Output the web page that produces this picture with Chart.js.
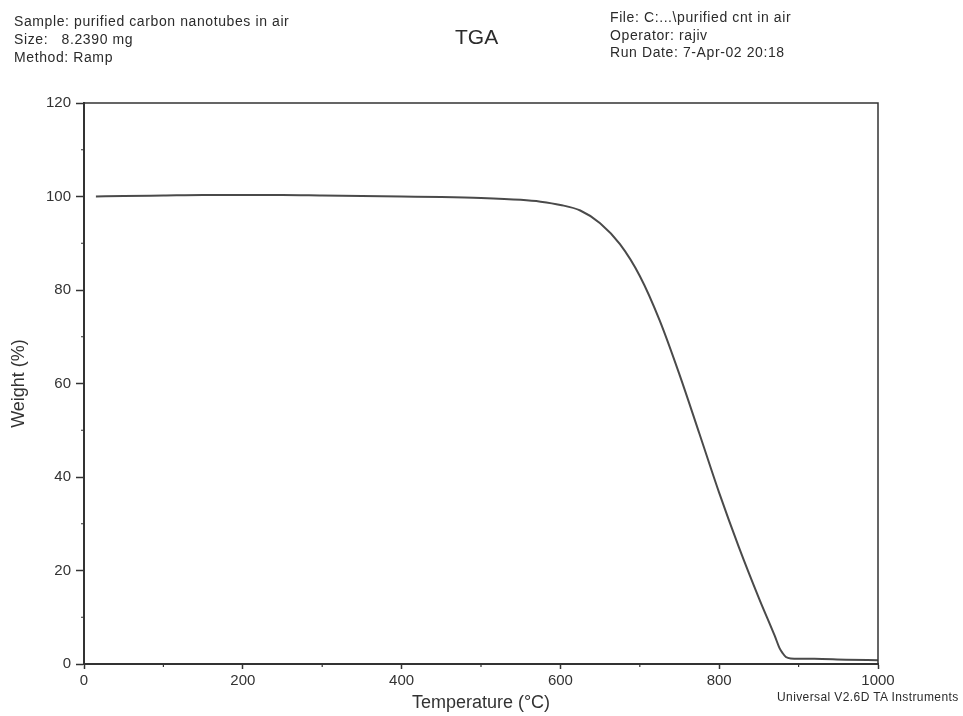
<!DOCTYPE html>
<html><head><meta charset="utf-8">
<script src="https://cdn.jsdelivr.net/npm/chart.js@4.4.0/dist/chart.umd.min.js"></script>
<style>
html,body{margin:0;padding:0;background:#fff;}
#wrap{position:relative;width:963px;height:716px;overflow:hidden;}
canvas{position:absolute;left:0;top:0;}
.t{position:absolute;font-family:"Liberation Sans",Arial,Helvetica,sans-serif;color:#2b2b2b;white-space:pre;}
</style></head><body>
<div id="wrap">
<canvas id="c" width="963" height="716"></canvas>
<div class="t" style="left:14px;top:12px;font-size:14px;letter-spacing:0.6px;line-height:18px">Sample: purified carbon nanotubes in air
Size:   8.2390 mg
Method: Ramp</div>
<div class="t" style="left:455px;top:24px;font-size:21px;line-height:26px">TGA</div>
<div class="t" style="left:610px;top:9px;font-size:14px;letter-spacing:0.6px;line-height:17.5px">File: C:...\purified cnt in air
Operator: rajiv
Run Date: 7-Apr-02 20:18</div>
<div class="t" style="left:777px;top:690px;font-size:12px;letter-spacing:0.4px;line-height:15px">Universal V2.6D TA Instruments</div>
</div>
<script>
const temperatureC = [15, 50, 100, 150, 200, 250, 300, 350, 400, 450, 500, 550, 575, 600, 625, 650, 675, 700, 725, 750, 775, 800, 825, 850, 870, 876, 880, 884, 890, 920, 960, 1000];
const weightPct = [100.0, 100.1, 100.2, 100.3, 100.3, 100.3, 100.2, 100.1, 100.0, 99.9, 99.7, 99.3, 98.9, 98.2, 97.0, 94.3, 89.8, 83.0, 73.5, 61.9, 49.3, 36.6, 24.9, 14.1, 6.0, 3.4, 2.3, 1.5, 1.2, 1.1, 0.9, 0.8];
const xMajorTicks = [0, 200, 400, 600, 800, 1000];
const xMinorTicks = [100, 300, 500, 700, 900];
const yMajorTicks = [0, 20, 40, 60, 80, 100, 120];
const yMinorTicks = [10, 30, 50, 70, 90, 110];

const ink = '#333333';
const fontFam = '"Liberation Sans", Arial, sans-serif';
const points = temperatureC.map((t, i) => ({x: t, y: weightPct[i]}));

const framePlugin = {
  id: 'frame',
  afterDraw(chart) {
    const {ctx, chartArea: a, scales: {x, y}} = chart;
    ctx.save();
    ctx.strokeStyle = ink;
    ctx.lineWidth = 1.5;
    ctx.beginPath();
    ctx.moveTo(a.left, a.top);
    ctx.lineTo(a.right, a.top);
    ctx.lineTo(a.right, a.bottom);
    ctx.stroke();
    ctx.lineWidth = 1.2;
    ctx.beginPath();
    yMinorTicks.forEach(v => { const p = y.getPixelForValue(v); ctx.moveTo(a.left - 3, p); ctx.lineTo(a.left, p); });
    xMinorTicks.forEach(v => { const p = x.getPixelForValue(v); ctx.moveTo(p, a.bottom); ctx.lineTo(p, a.bottom + 3); });
    ctx.stroke();
    ctx.restore();
  }
};

new Chart(document.getElementById('c'), {
  type: 'scatter',
  data: {datasets: [{
    data: points,
    showLine: true,
    borderColor: '#4a4a4a',
    borderWidth: 2,
    pointRadius: 0,
    cubicInterpolationMode: 'monotone',
    fill: false
  }]},
  options: {
    responsive: false,
    animation: false,
    devicePixelRatio: 1,
    layout: {padding: {left: 0, right: 85, top: 103, bottom: 0}},
    plugins: {legend: {display: false}, tooltip: {enabled: false}},
    scales: {
      x: {
        type: 'linear', min: 0, max: 1000,
        afterFit(s) { s.height = 716 - 664; },
        afterBuildTicks(s) { s.ticks = xMajorTicks.map(v => ({value: v})); },
        border: {display: true, color: ink, width: 2},
        grid: {display: true, drawOnChartArea: false, drawTicks: true, tickLength: 5, tickColor: ink, tickWidth: 1.5},
        ticks: {color: ink, font: {family: fontFam, size: 15}, padding: 3, maxRotation: 0, callback: v => String(v)},
        title: {display: true, text: 'Temperature (°C)', color: ink, font: {family: fontFam, size: 18}, padding: {top: 0, bottom: 2}}
      },
      y: {
        type: 'linear', min: 0, max: 120,
        afterFit(s) { s.width = 84; },
        afterBuildTicks(s) { s.ticks = yMajorTicks.map(v => ({value: v})); },
        border: {display: true, color: ink, width: 2},
        grid: {display: true, drawOnChartArea: false, drawTicks: true, tickLength: 8, tickColor: ink, tickWidth: 1.5},
        ticks: {color: ink, font: {family: fontFam, size: 15}, padding: 5, callback: v => String(v)},
        title: {display: true, text: 'Weight (%)', color: ink, font: {family: fontFam, size: 18}, padding: {top: 8, bottom: 0}}
      }
    }
  },
  plugins: [framePlugin]
});
</script>
</body></html>
